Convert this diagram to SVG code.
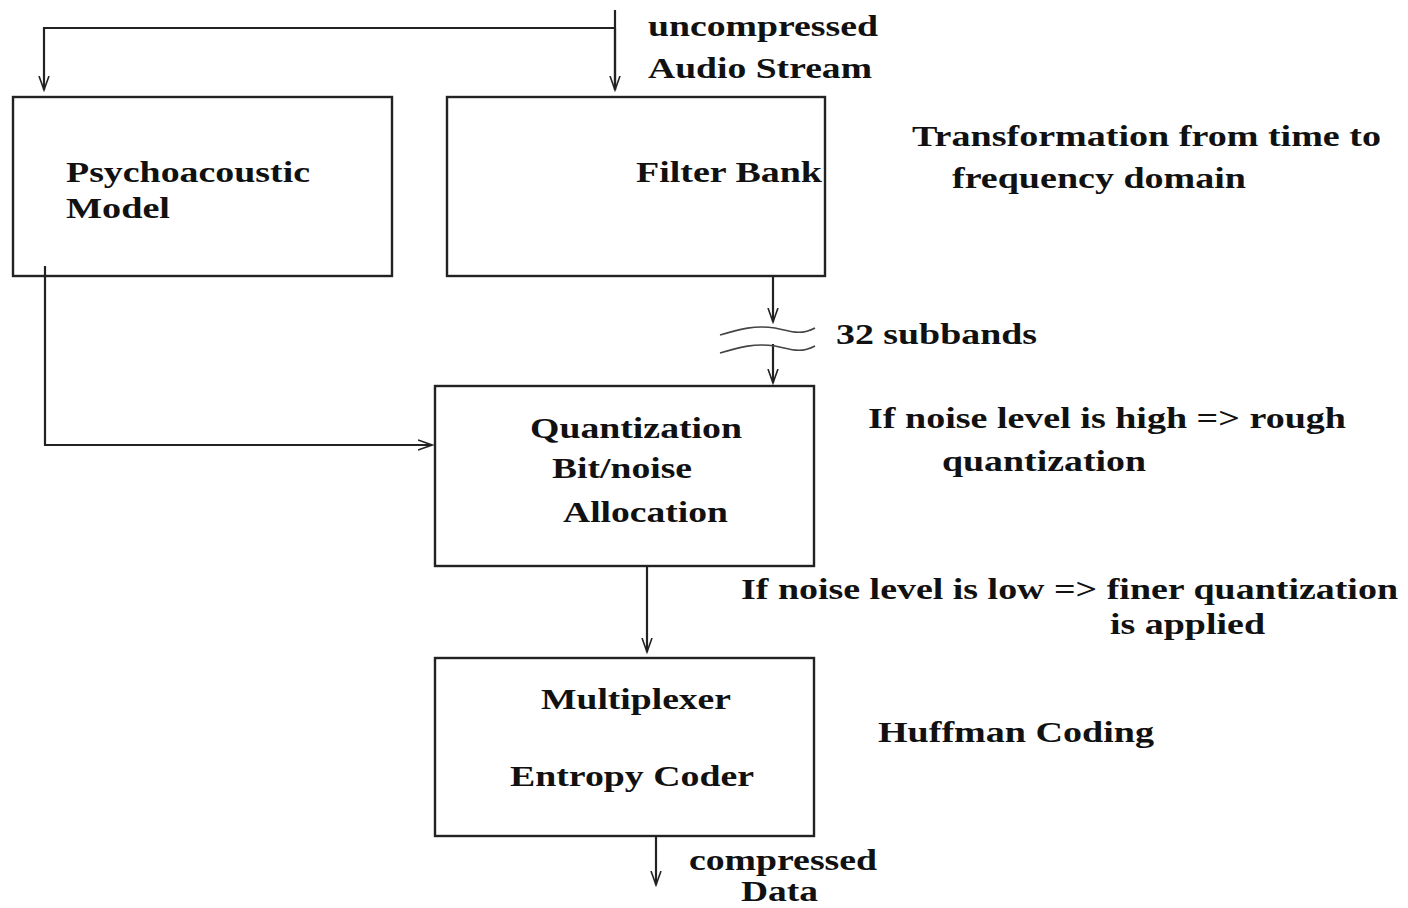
<svg xmlns="http://www.w3.org/2000/svg" width="1408" height="908" viewBox="0 0 1408 908">
<defs>
<marker id="v" viewBox="-14 -6 16 12" markerWidth="16" markerHeight="12" refX="0" refY="0" orient="auto" markerUnits="userSpaceOnUse">
<path d="M-14,-5 L0,0 L-14,5" fill="none" stroke="#222" stroke-width="1.6"/>
</marker>
<style>
.box{fill:none;stroke:#222;stroke-width:2.4}
.ln{fill:none;stroke:#222;stroke-width:2.2}
.ar{marker-end:url(#v)}
.wv{fill:none;stroke:#444;stroke-width:1.6}
text{font-family:"Liberation Serif","Times New Roman",serif;font-weight:bold;font-size:29px;fill:#111}
</style>
</defs>
<rect width="1408" height="908" fill="#fff"/>
<g id="connectors">
<path class="ln" d="M615,10 V90"/>
<path class="ln ar" d="M615,28 V90"/>
<path class="ln ar" d="M615,28 H44 V90"/>
<path class="ln ar" d="M45,266 V445 H432"/>
<path class="ln ar" d="M773,276 V322"/>
<path class="ln ar" d="M773,344 V383"/>
<path class="wv" d="M720,335 C740,329 755,325 775,328 C790,331 800,336 815,328"/>
<path class="wv" d="M720,353 C740,347 755,343 775,346 C790,349 800,354 815,346"/>
<path class="ln ar" d="M647,566 V652"/>
<path class="ln ar" d="M656,836 V885"/>
</g>
<g id="psycho">
<rect class="box" x="13" y="97" width="379" height="179"/>
<text x="66" y="182" textLength="244" lengthAdjust="spacingAndGlyphs">Psychoacoustic</text>
<text x="66" y="218" textLength="104" lengthAdjust="spacingAndGlyphs">Model</text>
</g>
<g id="filterbank">
<rect class="box" x="447" y="97" width="378" height="179"/>
<text x="636" y="182" textLength="186" lengthAdjust="spacingAndGlyphs">Filter Bank</text>
</g>
<g id="quant">
<rect class="box" x="435" y="386" width="379" height="180"/>
<text x="530" y="438" textLength="212" lengthAdjust="spacingAndGlyphs">Quantization</text>
<text x="552" y="478" textLength="140" lengthAdjust="spacingAndGlyphs">Bit/noise</text>
<text x="563" y="522" textLength="165" lengthAdjust="spacingAndGlyphs">Allocation</text>
</g>
<g id="mux">
<rect class="box" x="435" y="658" width="379" height="178"/>
<text x="541" y="709" textLength="190" lengthAdjust="spacingAndGlyphs">Multiplexer</text>
<text x="510" y="786" textLength="244" lengthAdjust="spacingAndGlyphs">Entropy Coder</text>
</g>
<g id="labels">
<text x="648" y="36" textLength="230" lengthAdjust="spacingAndGlyphs">uncompressed</text>
<text x="648" y="78" textLength="224" lengthAdjust="spacingAndGlyphs">Audio Stream</text>
<text x="912" y="146" textLength="469" lengthAdjust="spacingAndGlyphs">Transformation from time to</text>
<text x="952" y="188" textLength="294" lengthAdjust="spacingAndGlyphs">frequency domain</text>
<text x="836" y="344" textLength="201" lengthAdjust="spacingAndGlyphs">32 subbands</text>
<text x="868" y="428" textLength="478" lengthAdjust="spacingAndGlyphs">If noise level is high =&gt; rough</text>
<text x="942" y="471" textLength="204" lengthAdjust="spacingAndGlyphs">quantization</text>
<text x="741" y="599" textLength="657" lengthAdjust="spacingAndGlyphs">If noise level is low =&gt; finer quantization</text>
<text x="1110" y="634" textLength="155" lengthAdjust="spacingAndGlyphs">is applied</text>
<text x="878" y="742" textLength="276" lengthAdjust="spacingAndGlyphs">Huffman Coding</text>
<text x="689" y="870" textLength="188" lengthAdjust="spacingAndGlyphs">compressed</text>
<text x="741" y="901" textLength="77" lengthAdjust="spacingAndGlyphs">Data</text>
</g>
</svg>
